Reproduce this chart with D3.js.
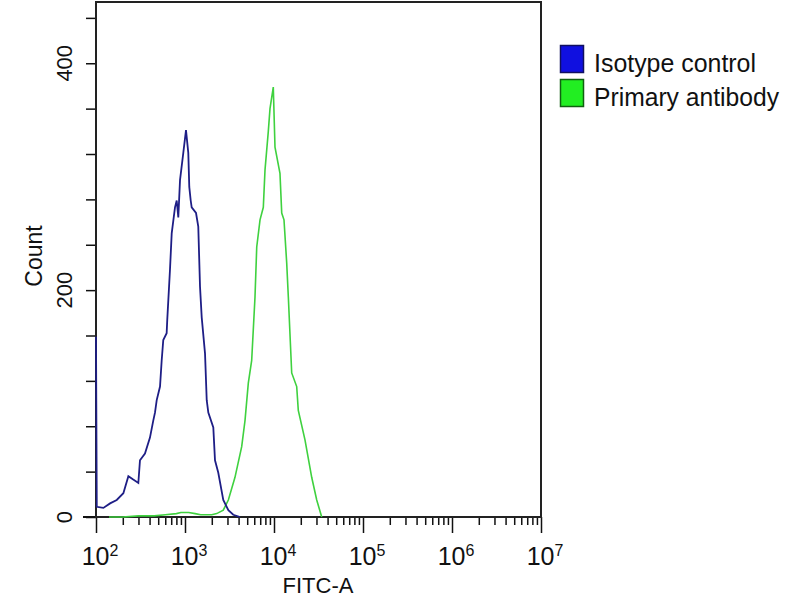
<!DOCTYPE html>
<html>
<head>
<meta charset="utf-8">
<script src="https://cdn.jsdelivr.net/npm/d3@7"></script>
<style>
  body { margin: 0; background: #fff; }
  text { font-family: Arial, "Liberation Sans", sans-serif; fill: #111; }
</style>
</head>
<body>
<svg id="chart" width="800" height="600"></svg>
<script>
// histogram readings (FITC-A intensity, count)
var isoX = [100, 102, 121, 144, 171, 203, 231, 262, 299, 312, 355, 404, 440, 460, 481, 524, 547, 570, 622, 632,
            678, 709, 772, 807, 841, 879, 957, 1026, 1089, 1117, 1159, 1189, 1330, 1410, 1475, 1541,
            1679, 1754, 1828, 2080, 2173, 2366, 2692, 3069, 3488, 4150];
var isoY = [159, 9, 8, 12, 15, 21, 36, 33, 30, 50, 56, 70, 85, 92, 103, 115, 138, 156, 162, 174,
            218, 250, 273, 279, 264, 297, 321, 341, 321, 291, 279, 273, 268, 256, 203, 176,
            144, 103, 92, 79, 50, 39, 15, 6, 2, 0];

var primX = [140, 200, 300, 450, 600, 800, 900, 1100, 1300, 1500, 2000, 2270, 2692, 3069, 3644, 4335, 4722, 5144,
             5614, 6117, 6397, 6966, 7586, 7925, 8630, 9016, 9817, 10260, 11670, 12210, 12950,
             13890, 14490, 15810, 17990, 18750, 22290, 26520, 30200, 34360];
var primY = [0, 0, 1, 1, 2, 3, 4, 4, 3, 2, 2, 3, 6, 15, 35, 62, 85, 118,
             138, 194, 238, 262, 273, 306, 340, 360, 379, 326, 303, 268, 262,
             224, 194, 127, 115, 94, 68, 35, 15, 0];

var decades = [2, 3, 4, 5, 6, 7];
var countTicks = [0, 200, 400];
var seriesNames = ['Isotype control', 'Primary antibody'];
var seriesColors = ['#1e1e86', '#3fd13f'];

var svg = d3.select('#chart');

var x = d3.scaleLog().domain([1e2, 1e7]).range([96, 541]);
var y = d3.scaleLinear().domain([0, 454]).range([517, 2]);

// minor x ticks 2..9 of every decade
var minor = [];
decades.slice(0, -1).forEach(function(p) {
  for (var k = 2; k <= 9; k++) minor.push(k * Math.pow(10, p));
});

svg.append('g')
  .attr('transform', 'translate(0,517)')
  .call(d3.axisBottom(x).tickValues(minor).tickSize(8).tickFormat(''))
  .call(function(g) { g.select('.domain').remove(); })
  .selectAll('line').attr('stroke', '#111').attr('stroke-width', 1.5);

svg.append('g')
  .attr('transform', 'translate(0,517)')
  .call(d3.axisBottom(x).tickValues(decades.map(function(p) { return Math.pow(10, p); })).tickSize(16).tickFormat(''))
  .call(function(g) { g.select('.domain').remove(); })
  .selectAll('line').attr('stroke', '#111').attr('stroke-width', 1.5);

// y ticks every 40
svg.append('g')
  .attr('transform', 'translate(96,0)')
  .call(d3.axisLeft(y).tickValues(d3.range(0, 441, 40)).tickSize(10).tickFormat(''))
  .call(function(g) { g.select('.domain').remove(); })
  .selectAll('line').attr('stroke', '#111').attr('stroke-width', 1.5);

// frame
svg.append('line').attr('x1', 83).attr('x2', 541).attr('y1', 517).attr('y2', 517)
  .attr('stroke', '#111').attr('stroke-width', 2);
svg.append('rect').attr('x', 96).attr('y', 2).attr('width', 445).attr('height', 515)
  .attr('fill', 'none').attr('stroke', '#222').attr('stroke-width', 2);

// curves
var line = d3.line()
  .x(function(d) { return x(d[0]); })
  .y(function(d) { return y(d[1]); });

svg.append('path')
  .datum(primX.map(function(v, i) { return [v, primY[i]]; }))
  .attr('d', line)
  .attr('fill', 'none')
  .attr('stroke', seriesColors[1])
  .attr('stroke-width', 1.6);

svg.append('path')
  .datum(isoX.map(function(v, i) { return [v, isoY[i]]; }))
  .attr('d', line)
  .attr('fill', 'none')
  .attr('stroke', seriesColors[0])
  .attr('stroke-width', 1.8);

// x tick labels 10^n
decades.forEach(function(p) {
  var t = svg.append('text')
    .attr('x', x(Math.pow(10, p)) + 4)
    .attr('y', 565)
    .attr('text-anchor', 'middle')
    .style('font-size', '25px');
  t.append('tspan').text('10');
  t.append('tspan').attr('dy', -9).style('font-size', '16px').text(p);
});

// y tick labels, rotated
countTicks.forEach(function(v) {
  svg.append('text')
    .attr('transform', 'translate(72,' + y(v) + ') rotate(-90)')
    .attr('text-anchor', 'middle')
    .style('font-size', '22px')
    .text(v);
});

svg.append('text')
  .attr('transform', 'translate(42,256) rotate(-90)')
  .attr('text-anchor', 'middle')
  .style('font-size', '23px')
  .text('Count');

svg.append('text')
  .attr('x', 318)
  .attr('y', 593)
  .attr('text-anchor', 'middle')
  .style('font-size', '22px')
  .text('FITC-A');

// legend
var legend = svg.append('g').attr('transform', 'translate(560,45)');
seriesNames.forEach(function(name, i) {
  legend.append('rect')
    .attr('x', 0.5).attr('y', i * 34 + 0.5)
    .attr('width', 23).attr('height', 27)
    .attr('fill', i === 0 ? '#1010e0' : '#22ee22')
    .attr('stroke', i === 0 ? '#101060' : '#106010')
    .attr('stroke-width', 1.5);
  legend.append('text')
    .attr('x', 34).attr('y', i * 34 + 27)
    .style('font-size', '26px')
    .attr('textLength', i === 0 ? 162 : 185)
    .attr('lengthAdjust', 'spacingAndGlyphs')
    .text(name);
});
</script>
</body>
</html>
